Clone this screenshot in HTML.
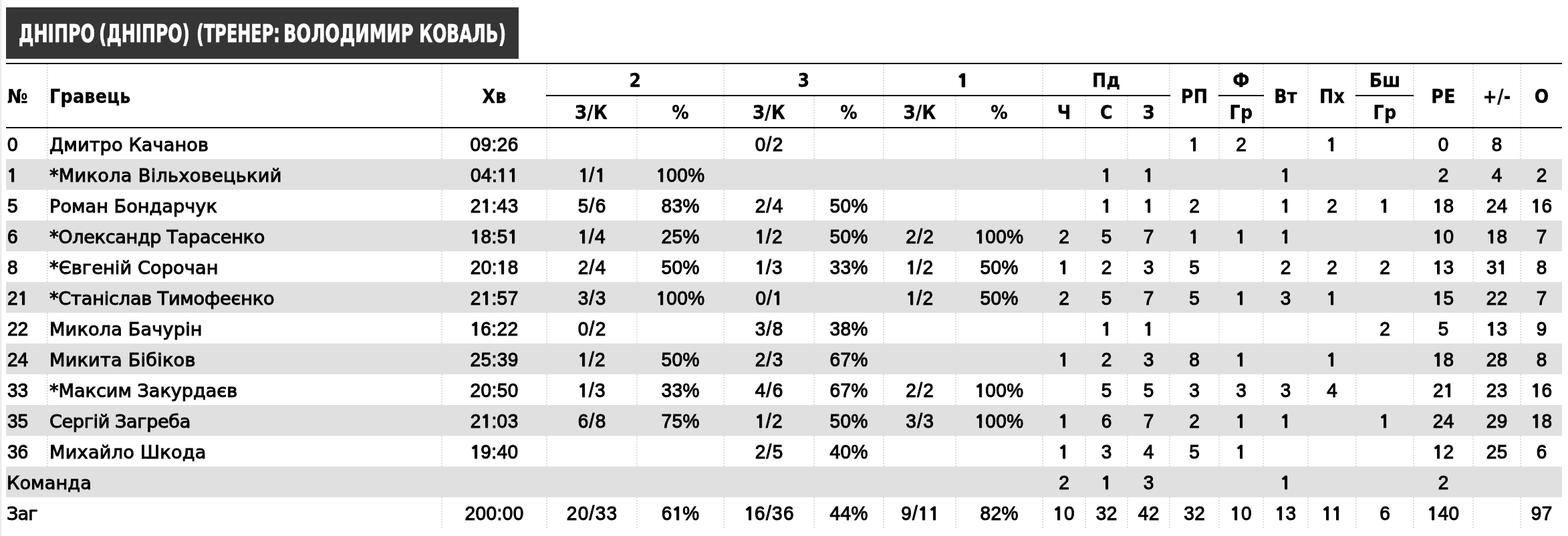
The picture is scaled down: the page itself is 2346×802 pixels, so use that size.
<!DOCTYPE html><html lang="uk"><head><meta charset="utf-8"><title>Box score</title><style>
html,body{margin:0;padding:0;background:#fff;overflow:hidden;}
body{width:2346px;height:802px;overflow:hidden;position:relative;font-family:"Liberation Sans","DejaVu Sans",sans-serif;color:#000;}
#strip{position:absolute;left:0;top:0;width:2px;height:802px;background:#ececec;border-right:1px solid #f5f5f5;}
#title{position:absolute;left:9px;top:11px;height:76px;width:766px;background:#353535;color:#fff;font-family:"DejaVu Sans Condensed","DejaVu Sans","Liberation Sans",sans-serif;font-weight:bold;font-size:36px;line-height:80px;white-space:nowrap;overflow:hidden;}
#tb{position:absolute;left:9px;top:87px;width:767px;height:1px;background:#3c3c3c;}
#tr{position:absolute;left:775px;top:11px;width:1px;height:76px;background:#3a3a3a;}
#title span{display:inline-block;transform-origin:0 50%;-webkit-text-stroke:0.7px #fff;}
table{position:absolute;left:9px;top:94px;width:2328px;border-collapse:separate;border-spacing:0;table-layout:fixed;font-size:28px;}
td,th{padding:0;height:46px;line-height:46px;text-align:center;white-space:nowrap;overflow:hidden;border-left:2px solid transparent;box-sizing:border-box;font-weight:normal;}
td{padding-top:3px;line-height:43px;-webkit-text-stroke:1.05px #000;}
td.n{-webkit-text-stroke:1px #000;}
th{font-family:"DejaVu Sans Condensed","DejaVu Sans","Liberation Sans",sans-serif;font-weight:bold;font-size:28.2px;letter-spacing:0.3px;}
td span{display:inline-block;transform-origin:50% 31.2px;transform:scaleY(1.055);}
td i{font-style:normal;font-family:"NanumGothic","Liberation Sans",sans-serif;font-size:25px;font-weight:bold;display:inline-block;width:15.57px;text-align:center;-webkit-text-stroke:0.8px #000;letter-spacing:0;line-height:1;transform:scaleX(1.18);transform-origin:66% 50%;}
th i{font-style:normal;font-family:"NanumGothic","DejaVu Sans",sans-serif;font-weight:800;font-size:25.5px;display:inline-block;line-height:1;-webkit-text-stroke:1px #000;transform:scaleX(1.2);}
td.f{letter-spacing:1.3px;padding-left:1.3px;}
td.d{letter-spacing:0.45px;padding-left:0.45px;}
td:first-child,th:first-child{border-left:none;}
.l{text-align:left;padding-left:2px;}
td.n{font-family:"DejaVu Sans","Liberation Sans",sans-serif;font-size:27.2px;}
td:first-child.l,th:first-child.l{padding-left:2px;}
td:first-child.l.n{padding-left:1px;}
thead tr:first-child th{border-top:2px solid transparent;height:48px;}
thead th.g{border-bottom:2px solid transparent;height:50px;}
thead th.s{border-bottom:2px solid transparent;height:48px;}
thead th.r{border-bottom:2px solid transparent;height:98px;}
th{padding-top:2px;line-height:44px;-webkit-text-stroke:0.3px #000;}
th span{display:inline-block;transform:translateY(0.5px);}
.hl{position:absolute;height:2px;background:#000;}
.vl{position:absolute;width:2px;background:repeating-linear-gradient(to bottom,#dedede 0,#dedede 2px,transparent 2px,transparent 4px);}
tbody tr:nth-child(even) td{background:#e0e0e0;border-left-color:transparent;}
</style></head><body>
<div id="strip"></div><div id="tb"></div><div id="tr"></div>
<div id="title"><span style="margin:0 -36.71px 0 18.52px;transform:scale(0.7792,1.025)">ДНІПРО</span> <span style="margin:0 -41.88px 0 0.00px;transform:scale(0.7733,1.025)">(ДНІПРО)</span> <span style="margin:0 -49.87px 0 0.00px;transform:scale(0.7402,1.025)">(ТРЕНЕР:</span> <span style="margin:0 -53.95px 0 0.00px;transform:scale(0.7917,1.025)">ВОЛОДИМИР</span> <span style="margin:0 0.00px 0 0.00px;transform:scale(0.7642,1.025)">КОВАЛЬ)</span></div>
<div class="vl" style="left:70px;top:96px;height:602px"></div>
<div class="vl" style="left:660px;top:96px;height:694px"></div>
<div class="vl" style="left:817px;top:96px;height:694px"></div>
<div class="vl" style="left:952px;top:144px;height:646px"></div>
<div class="vl" style="left:1082px;top:96px;height:694px"></div>
<div class="vl" style="left:1217px;top:144px;height:646px"></div>
<div class="vl" style="left:1321px;top:96px;height:694px"></div>
<div class="vl" style="left:1429px;top:144px;height:646px"></div>
<div class="vl" style="left:1559px;top:96px;height:694px"></div>
<div class="vl" style="left:1623px;top:144px;height:646px"></div>
<div class="vl" style="left:1686px;top:144px;height:646px"></div>
<div class="vl" style="left:1749px;top:96px;height:694px"></div>
<div class="vl" style="left:1823px;top:96px;height:694px"></div>
<div class="vl" style="left:1889px;top:96px;height:694px"></div>
<div class="vl" style="left:1956px;top:96px;height:694px"></div>
<div class="vl" style="left:2028px;top:96px;height:694px"></div>
<div class="vl" style="left:2114px;top:96px;height:694px"></div>
<div class="vl" style="left:2203px;top:96px;height:694px"></div>
<div class="vl" style="left:2274px;top:96px;height:694px"></div>
<table><colgroup><col style="width:61px"><col style="width:590px"><col style="width:157px"><col style="width:135px"><col style="width:130px"><col style="width:135px"><col style="width:104px"><col style="width:108px"><col style="width:130px"><col style="width:64px"><col style="width:63px"><col style="width:63px"><col style="width:74px"><col style="width:66px"><col style="width:67px"><col style="width:72px"><col style="width:86px"><col style="width:89px"><col style="width:71px"><col style="width:63px"></colgroup>
<thead><tr>
<th class="r l" rowspan="2"><span>№</span></th><th class="r l" rowspan="2"><span>Гравець</span></th><th class="r" rowspan="2"><span>Хв</span></th>
<th class="g" colspan="2"><span>2</span></th><th class="g" colspan="2"><span>3</span></th><th class="g" colspan="2"><span><i>1</i></span></th><th class="g" colspan="3"><span>Пд</span></th>
<th class="r" rowspan="2"><span>РП</span></th><th class="g"><span>Ф</span></th><th class="r" rowspan="2"><span>Вт</span></th><th class="r" rowspan="2"><span>Пх</span></th><th class="g"><span>Бш</span></th>
<th class="r" rowspan="2"><span>РЕ</span></th><th class="r" rowspan="2"><span>+/-</span></th><th class="r" rowspan="2"><span>О</span></th></tr>
<tr><th class="s"><span>З/К</span></th><th class="s"><span>%</span></th><th class="s"><span>З/К</span></th><th class="s"><span>%</span></th><th class="s"><span>З/К</span></th><th class="s"><span>%</span></th><th class="s"><span>Ч</span></th><th class="s"><span>С</span></th><th class="s"><span>З</span></th><th class="s"><span>Гр</span></th><th class="s"><span>Гр</span></th></tr></thead><tbody>
<tr>
<td class="l"><span>0</span></td>
<td class="l n" style="letter-spacing:0.09px">Дмитро Качанов</td>
<td class="d"><span>09:26</span></td>
<td></td>
<td></td>
<td class="f"><span>0/2</span></td>
<td></td>
<td></td>
<td></td>
<td></td>
<td></td>
<td></td>
<td><span><i>1</i></span></td>
<td><span>2</span></td>
<td></td>
<td><span><i>1</i></span></td>
<td></td>
<td><span>0</span></td>
<td><span>8</span></td>
<td></td>
</tr>
<tr>
<td class="l"><span><i>1</i></span></td>
<td class="l n" style="letter-spacing:0.28px">*Микола Вільховецький</td>
<td class="d"><span>04:<i>1</i><i>1</i></span></td>
<td class="f"><span><i>1</i>/<i>1</i></span></td>
<td class="d"><span><i>1</i>00%</span></td>
<td></td>
<td></td>
<td></td>
<td></td>
<td></td>
<td><span><i>1</i></span></td>
<td><span><i>1</i></span></td>
<td></td>
<td></td>
<td><span><i>1</i></span></td>
<td></td>
<td></td>
<td><span>2</span></td>
<td><span>4</span></td>
<td><span>2</span></td>
</tr>
<tr>
<td class="l"><span>5</span></td>
<td class="l n" style="letter-spacing:-0.01px">Роман Бондарчук</td>
<td class="d"><span>2<i>1</i>:43</span></td>
<td class="f"><span>5/6</span></td>
<td class="d"><span>83%</span></td>
<td class="f"><span>2/4</span></td>
<td class="d"><span>50%</span></td>
<td></td>
<td></td>
<td></td>
<td><span><i>1</i></span></td>
<td><span><i>1</i></span></td>
<td><span>2</span></td>
<td></td>
<td><span><i>1</i></span></td>
<td><span>2</span></td>
<td><span><i>1</i></span></td>
<td class="d"><span><i>1</i>8</span></td>
<td class="d"><span>24</span></td>
<td class="d"><span><i>1</i>6</span></td>
</tr>
<tr>
<td class="l"><span>6</span></td>
<td class="l n" style="letter-spacing:-0.37px">*Олександр Тарасенко</td>
<td class="d"><span><i>1</i>8:5<i>1</i></span></td>
<td class="f"><span><i>1</i>/4</span></td>
<td class="d"><span>25%</span></td>
<td class="f"><span><i>1</i>/2</span></td>
<td class="d"><span>50%</span></td>
<td class="f"><span>2/2</span></td>
<td class="d"><span><i>1</i>00%</span></td>
<td><span>2</span></td>
<td><span>5</span></td>
<td><span>7</span></td>
<td><span><i>1</i></span></td>
<td><span><i>1</i></span></td>
<td><span><i>1</i></span></td>
<td></td>
<td></td>
<td class="d"><span><i>1</i>0</span></td>
<td class="d"><span><i>1</i>8</span></td>
<td><span>7</span></td>
</tr>
<tr>
<td class="l"><span>8</span></td>
<td class="l n" style="letter-spacing:0.08px">*Євгеній Сорочан</td>
<td class="d"><span>20:<i>1</i>8</span></td>
<td class="f"><span>2/4</span></td>
<td class="d"><span>50%</span></td>
<td class="f"><span><i>1</i>/3</span></td>
<td class="d"><span>33%</span></td>
<td class="f"><span><i>1</i>/2</span></td>
<td class="d"><span>50%</span></td>
<td><span><i>1</i></span></td>
<td><span>2</span></td>
<td><span>3</span></td>
<td><span>5</span></td>
<td></td>
<td><span>2</span></td>
<td><span>2</span></td>
<td><span>2</span></td>
<td class="d"><span><i>1</i>3</span></td>
<td class="d"><span>3<i>1</i></span></td>
<td><span>8</span></td>
</tr>
<tr>
<td class="l"><span>2<i>1</i></span></td>
<td class="l n" style="letter-spacing:-0.23px">*Станіслав Тимофеєнко</td>
<td class="d"><span>2<i>1</i>:57</span></td>
<td class="f"><span>3/3</span></td>
<td class="d"><span><i>1</i>00%</span></td>
<td class="f"><span>0/<i>1</i></span></td>
<td></td>
<td class="f"><span><i>1</i>/2</span></td>
<td class="d"><span>50%</span></td>
<td><span>2</span></td>
<td><span>5</span></td>
<td><span>7</span></td>
<td><span>5</span></td>
<td><span><i>1</i></span></td>
<td><span>3</span></td>
<td><span><i>1</i></span></td>
<td></td>
<td class="d"><span><i>1</i>5</span></td>
<td class="d"><span>22</span></td>
<td><span>7</span></td>
</tr>
<tr>
<td class="l"><span>22</span></td>
<td class="l n" style="letter-spacing:0.13px">Микола Бачурін</td>
<td class="d"><span><i>1</i>6:22</span></td>
<td class="f"><span>0/2</span></td>
<td></td>
<td class="f"><span>3/8</span></td>
<td class="d"><span>38%</span></td>
<td></td>
<td></td>
<td></td>
<td><span><i>1</i></span></td>
<td><span><i>1</i></span></td>
<td></td>
<td></td>
<td></td>
<td></td>
<td><span>2</span></td>
<td><span>5</span></td>
<td class="d"><span><i>1</i>3</span></td>
<td><span>9</span></td>
</tr>
<tr>
<td class="l"><span>24</span></td>
<td class="l n" style="letter-spacing:0.19px">Микита Бібіков</td>
<td class="d"><span>25:39</span></td>
<td class="f"><span><i>1</i>/2</span></td>
<td class="d"><span>50%</span></td>
<td class="f"><span>2/3</span></td>
<td class="d"><span>67%</span></td>
<td></td>
<td></td>
<td><span><i>1</i></span></td>
<td><span>2</span></td>
<td><span>3</span></td>
<td><span>8</span></td>
<td><span><i>1</i></span></td>
<td></td>
<td><span><i>1</i></span></td>
<td></td>
<td class="d"><span><i>1</i>8</span></td>
<td class="d"><span>28</span></td>
<td><span>8</span></td>
</tr>
<tr>
<td class="l"><span>33</span></td>
<td class="l n" style="letter-spacing:-0.06px">*Максим Закурдаєв</td>
<td class="d"><span>20:50</span></td>
<td class="f"><span><i>1</i>/3</span></td>
<td class="d"><span>33%</span></td>
<td class="f"><span>4/6</span></td>
<td class="d"><span>67%</span></td>
<td class="f"><span>2/2</span></td>
<td class="d"><span><i>1</i>00%</span></td>
<td></td>
<td><span>5</span></td>
<td><span>5</span></td>
<td><span>3</span></td>
<td><span>3</span></td>
<td><span>3</span></td>
<td><span>4</span></td>
<td></td>
<td class="d"><span>2<i>1</i></span></td>
<td class="d"><span>23</span></td>
<td class="d"><span><i>1</i>6</span></td>
</tr>
<tr>
<td class="l"><span>35</span></td>
<td class="l n" style="letter-spacing:-0.43px">Сергій Загреба</td>
<td class="d"><span>2<i>1</i>:03</span></td>
<td class="f"><span>6/8</span></td>
<td class="d"><span>75%</span></td>
<td class="f"><span><i>1</i>/2</span></td>
<td class="d"><span>50%</span></td>
<td class="f"><span>3/3</span></td>
<td class="d"><span><i>1</i>00%</span></td>
<td><span><i>1</i></span></td>
<td><span>6</span></td>
<td><span>7</span></td>
<td><span>2</span></td>
<td><span><i>1</i></span></td>
<td><span><i>1</i></span></td>
<td></td>
<td><span><i>1</i></span></td>
<td class="d"><span>24</span></td>
<td class="d"><span>29</span></td>
<td class="d"><span><i>1</i>8</span></td>
</tr>
<tr>
<td class="l"><span>36</span></td>
<td class="l n" style="letter-spacing:0.22px">Михайло Шкода</td>
<td class="d"><span><i>1</i>9:40</span></td>
<td></td>
<td></td>
<td class="f"><span>2/5</span></td>
<td class="d"><span>40%</span></td>
<td></td>
<td></td>
<td><span><i>1</i></span></td>
<td><span>3</span></td>
<td><span>4</span></td>
<td><span>5</span></td>
<td><span><i>1</i></span></td>
<td></td>
<td></td>
<td></td>
<td class="d"><span><i>1</i>2</span></td>
<td class="d"><span>25</span></td>
<td><span>6</span></td>
</tr>
<tr>
<td class="l n" colspan="2" style="letter-spacing:0.09px">Команда</td>
<td></td>
<td></td>
<td></td>
<td></td>
<td></td>
<td></td>
<td></td>
<td><span>2</span></td>
<td><span><i>1</i></span></td>
<td><span>3</span></td>
<td></td>
<td></td>
<td><span><i>1</i></span></td>
<td></td>
<td></td>
<td><span>2</span></td>
<td></td>
<td></td>
</tr>
<tr>
<td class="l n" colspan="2" style="letter-spacing:-0.90px">Заг</td>
<td class="d"><span>200:00</span></td>
<td class="f"><span>20/33</span></td>
<td class="d"><span>6<i>1</i>%</span></td>
<td class="f"><span><i>1</i>6/36</span></td>
<td class="d"><span>44%</span></td>
<td class="f"><span>9/<i>1</i><i>1</i></span></td>
<td class="d"><span>82%</span></td>
<td class="d"><span><i>1</i>0</span></td>
<td class="d"><span>32</span></td>
<td class="d"><span>42</span></td>
<td class="d"><span>32</span></td>
<td class="d"><span><i>1</i>0</span></td>
<td class="d"><span><i>1</i>3</span></td>
<td class="d"><span><i>1</i><i>1</i></span></td>
<td><span>6</span></td>
<td class="d"><span><i>1</i>40</span></td>
<td></td>
<td class="d"><span>97</span></td>
</tr>
</tbody></table>
<div class="hl" style="left:9px;top:94px;width:2328px"></div>
<div class="hl" style="left:9px;top:190px;width:2328px"></div>
<div class="hl" style="left:817px;top:142px;width:934px"></div>
<div class="hl" style="left:1823px;top:142px;width:68px"></div>
<div class="hl" style="left:2028px;top:142px;width:87px"></div>
</body></html>
